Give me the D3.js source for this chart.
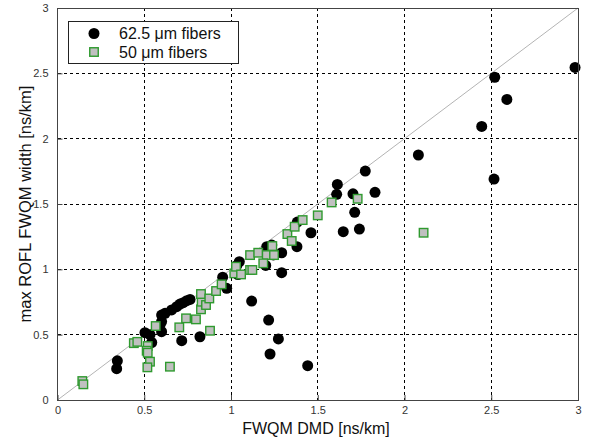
<!DOCTYPE html>
<html>
<head>
<meta charset="utf-8">
<script src="https://cdn.jsdelivr.net/npm/d3@7"></script>
<style>
  html, body { margin: 0; padding: 0; background: #fff; }
  svg { display: block; font-family: "Liberation Sans", Arial, sans-serif; }
</style>
</head>
<body>
<svg id="chart" width="590" height="438"></svg>
<script>
// FWQM DMD vs. max ROFL FWQM width, both in ns/km
const fiber625 = [
  [0.345, 0.30], [0.341, 0.24],
  [0.504, 0.515], [0.533, 0.50], [0.543, 0.44], [0.591, 0.574], [0.600, 0.523], [0.600, 0.60],
  [0.600, 0.65], [0.620, 0.663], [0.658, 0.689], [0.687, 0.714], [0.706, 0.734], [0.725, 0.745],
  [0.745, 0.76], [0.764, 0.77],
  [0.716, 0.454], [0.821, 0.484],
  [0.952, 0.94], [0.975, 0.855], [1.04, 0.96], [1.048, 1.058], [1.033, 1.03],
  [1.119, 0.757], [1.20, 1.03], [1.206, 1.173], [1.235, 1.186], [1.244, 1.11], [1.292, 1.127],
  [1.292, 0.974], [1.38, 1.173], [1.382, 1.362],
  [1.217, 0.612], [1.225, 0.352], [1.273, 0.467], [1.442, 0.263],
  [1.461, 1.28], [1.647, 1.288], [1.74, 1.308],
  [1.609, 1.574], [1.613, 1.65], [1.703, 1.578], [1.713, 1.436], [1.774, 1.752], [1.83, 1.589],
  [2.08, 1.875], [2.445, 2.094], [2.516, 1.691], [2.52, 2.47], [2.59, 2.30], [2.983, 2.545]
];

const fiber50 = [
  [0.143, 0.145], [0.149, 0.12],
  [0.44, 0.435], [0.46, 0.445], [0.52, 0.413], [0.514, 0.377], [0.52, 0.362], [0.533, 0.293],
  [0.518, 0.25], [0.566, 0.566], [0.648, 0.255],
  [0.702, 0.556], [0.741, 0.625], [0.798, 0.617], [0.879, 0.53],
  [0.827, 0.694], [0.831, 0.752], [0.856, 0.727], [0.827, 0.811], [0.875, 0.777], [0.914, 0.834],
  [0.946, 0.885],
  [1.019, 0.969], [1.029, 1.02], [1.058, 0.961], [1.11, 0.995], [1.123, 0.995],
  [1.11, 1.109], [1.157, 1.127], [1.206, 1.109], [1.248, 1.109], [1.238, 1.178], [1.186, 1.046],
  [1.325, 1.27], [1.35, 1.217], [1.367, 1.326], [1.413, 1.377], [1.5, 1.413], [1.58, 1.512],
  [1.73, 1.54], [2.11, 1.28]
];

const xTicks = [0, 0.5, 1, 1.5, 2, 2.5, 3];
const yTicks = [0, 0.5, 1, 1.5, 2, 2.5, 3];
const seriesNames = ["62.5 \u03bcm fibers", "50 \u03bcm fibers"];

const svg = d3.select("#chart");
const plot = { left: 57.5, right: 578, top: 8, bottom: 400 };

const x = d3.scaleLinear().domain([0, 3]).range([plot.left, plot.right]);
const y = d3.scaleLinear().domain([0, 3]).range([plot.bottom, plot.top]);

// dotted grid
const grid = svg.append("g").attr("stroke", "#000").attr("stroke-width", 1)
  .attr("stroke-dasharray", "3,3").attr("shape-rendering", "crispEdges");
xTicks.slice(1, -1).forEach(t => {
  grid.append("line").attr("x1", x(t)).attr("x2", x(t)).attr("y1", plot.top).attr("y2", plot.bottom);
});
yTicks.slice(1, -1).forEach(t => {
  grid.append("line").attr("y1", y(t)).attr("y2", y(t)).attr("x1", plot.left).attr("x2", plot.right);
});

// 1:1 reference line
svg.append("line")
  .attr("x1", x(0)).attr("y1", y(0)).attr("x2", x(3)).attr("y2", y(3))
  .attr("stroke", "#b4b4b4").attr("stroke-width", 1);

// axes with inward ticks
const xAxis = d3.axisBottom(x).tickValues(xTicks).tickSizeInner(-5).tickSizeOuter(0)
  .tickPadding(6).tickFormat(d3.format("~g"));
const yAxis = d3.axisLeft(y).tickValues(yTicks).tickSizeInner(-5).tickSizeOuter(0)
  .tickPadding(9).tickFormat(d3.format("~g"));

const gx = svg.append("g").attr("transform", `translate(0,${plot.bottom})`).call(xAxis);
const gy = svg.append("g").attr("transform", `translate(${plot.left},0)`).call(yAxis);
[gx, gy].forEach(g => {
  g.select(".domain").remove();
  g.selectAll(".tick line").attr("stroke", "#444");
  g.selectAll(".tick text").attr("fill", "#333").style("font-size", "11px")
    .style("font-family", "'Liberation Sans', Arial, sans-serif");
});

// markers
svg.append("g").selectAll("circle").data(fiber625).join("circle")
  .attr("cx", d => x(d[0])).attr("cy", d => y(d[1])).attr("r", 5.5)
  .attr("fill", "#000");

const sq = 8.5;
svg.append("g").selectAll("rect").data(fiber50).join("rect")
  .attr("x", d => x(d[0]) - sq / 2).attr("y", d => y(d[1]) - sq / 2)
  .attr("width", sq).attr("height", sq)
  .attr("fill", "#c0c0c0").attr("stroke", "#2f9a2f").attr("stroke-width", 1.4);

// plot frame
svg.append("rect")
  .attr("x", plot.left).attr("y", plot.top)
  .attr("width", plot.right - plot.left).attr("height", plot.bottom - plot.top)
  .attr("fill", "none").attr("stroke", "#444").attr("stroke-width", 1)
  .attr("shape-rendering", "crispEdges");

// axis titles
svg.append("text").attr("x", 316).attr("y", 434)
  .attr("text-anchor", "middle").style("font-size", "16px").attr("fill", "#111")
  .text("FWQM DMD [ns/km]");
svg.append("text")
  .attr("transform", `translate(31,${(plot.top + plot.bottom) / 2}) rotate(-90)`)
  .attr("text-anchor", "middle").style("font-size", "16.5px").attr("fill", "#111")
  .text("max ROFL FWQM width [ns/km]");

// legend
const lg = svg.append("g");
lg.append("rect").attr("x", 68.5).attr("y", 21.5).attr("width", 170).attr("height", 42)
  .attr("fill", "#fff").attr("stroke", "#222").attr("stroke-width", 1)
  .attr("shape-rendering", "crispEdges");
lg.append("circle").attr("cx", 94).attr("cy", 33.5).attr("r", 5.5).attr("fill", "#000");
lg.append("rect").attr("x", 94 - sq / 2).attr("y", 52 - sq / 2).attr("width", sq).attr("height", sq)
  .attr("fill", "#c0c0c0").attr("stroke", "#2f9a2f").attr("stroke-width", 1.4);
lg.selectAll("text.lbl").data(seriesNames).join("text").attr("class", "lbl")
  .attr("x", 119).attr("y", (d, i) => 39 + i * 19)
  .style("font-size", "16px").attr("fill", "#111").text(d => d);
</script>
</body>
</html>
